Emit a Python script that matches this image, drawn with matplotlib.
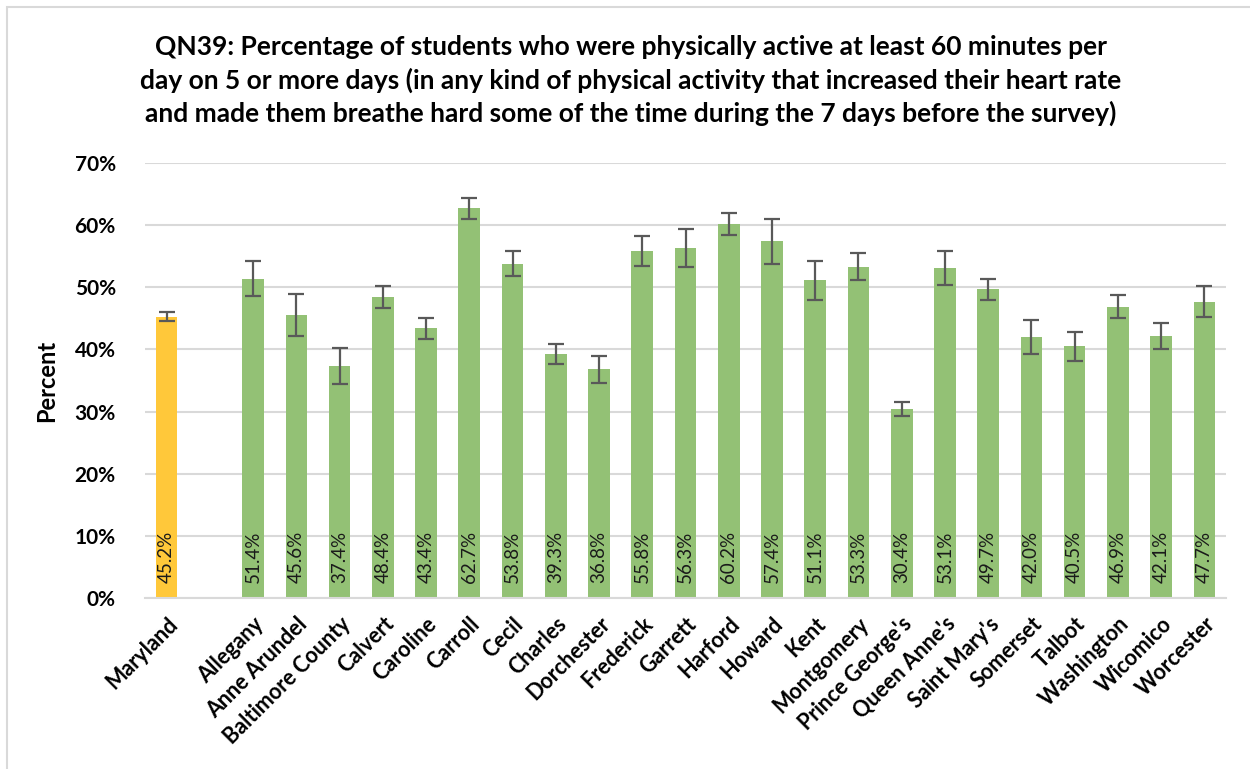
import matplotlib
matplotlib.use("Agg")
import matplotlib.pyplot as plt
from matplotlib.patches import Rectangle
import numpy as np

plt.rcParams['font.family'] = ['Lato', 'DejaVu Sans']

categories = ["Maryland", "", "Allegany", "Anne Arundel", "Baltimore County", "Calvert",
              "Caroline", "Carroll", "Cecil", "Charles", "Dorchester", "Frederick",
              "Garrett", "Harford", "Howard", "Kent", "Montgomery", "Prince George's",
              "Queen Anne's", "Saint Mary's", "Somerset", "Talbot", "Washington",
              "Wicomico", "Worcester"]
values = [45.2, None, 51.4, 45.6, 37.4, 48.4, 43.4, 62.7, 53.8, 39.3, 36.8, 55.8,
          56.3, 60.2, 57.4, 51.1, 53.3, 30.4, 53.1, 49.7, 42.0, 40.5, 46.9, 42.1, 47.7]
ci_low = [44.5, None, 48.6, 42.1, 34.5, 46.7, 41.6, 61.0, 51.8, 37.7, 34.6, 53.5,
          53.2, 58.4, 53.8, 47.9, 51.2, 29.3, 50.3, 48.0, 39.3, 38.1, 45.0, 40.1, 45.2]
ci_high = [46.0, None, 54.2, 49.0, 40.2, 50.2, 45.1, 64.3, 55.9, 40.9, 38.9, 58.2,
           59.3, 61.9, 61.0, 54.3, 55.5, 31.5, 55.8, 51.4, 44.7, 42.8, 48.8, 44.2, 50.2]

title_lines = ["QN39: Percentage of students who were physically active at least 60 minutes per",
               "day on 5 or more days (in any kind of physical activity that increased their heart rate",
               "and made them breathe hard some of the time during the 7 days before the survey)"]

W, H = 1250, 769
fig = plt.figure(figsize=(W / 100, H / 100), dpi=100)
fig.patches.append(Rectangle((7 / W, -0.1), 1.2, 1.1 - 7 / H, transform=fig.transFigure,
                             fill=False, edgecolor='#D9D9D9', linewidth=1.5, zorder=0))
ax = fig.add_axes([145 / W, 1 - 598 / H, (1226 - 145) / W, (598 - 163) / H])

green = '#93C175'
yellow = '#FFC83A'
x = np.arange(len(categories))
for i, (v, lo, hi) in enumerate(zip(values, ci_low, ci_high)):
    if v is None:
        continue
    col = yellow if i == 0 else green
    ax.bar(i, v / 100, width=0.5, color=col, zorder=2)
    ax.errorbar(i, v / 100, yerr=[[(v - lo) / 100], [(hi - v) / 100]], fmt='none',
                ecolor='#595959', elinewidth=1.6, capsize=5.5, capthick=1.6, zorder=3)
    ax.annotate(f"{v:.1f}%", (i, 0), xytext=(0, 11), textcoords='offset points',
                rotation=90, ha='center', va='bottom', fontsize=13.5, color='#1A1A1A',
                zorder=4)

ax.set_xlim(-0.5, len(categories) - 0.5)
ax.set_ylim(0, 0.70)
ax.set_yticks(np.arange(0, 0.71, 0.10))
ax.set_yticklabels([f"{int(round(t * 100))}%" for t in np.arange(0, 0.71, 0.10)],
                   fontsize=15, fontweight='bold')
ax.yaxis.grid(True, color='#D9D9D9', linewidth=1.5, zorder=0)
ax.set_axisbelow(True)
for s in ['top', 'right', 'left']:
    ax.spines[s].set_visible(False)
ax.spines['bottom'].set_color('#D9D9D9')
ax.spines['bottom'].set_linewidth(1.5)
ax.tick_params(axis='both', length=0)
ax.tick_params(axis='y', pad=21)

ax.set_xticks(x)
ax.set_xticklabels(categories, rotation=45, ha='right', rotation_mode='anchor',
                   fontsize=15.5, fontweight='bold')
ax.tick_params(axis='x', pad=11)

ax.set_ylabel("Percent", fontsize=17, fontweight='bold', labelpad=12)

for k, line in enumerate(title_lines):
    fig.text(0.5045, 1 - (47 + 33 * k) / H, line, ha='center', va='center',
             fontsize=19, fontweight='bold')

fig.savefig("out.png", dpi=100)
